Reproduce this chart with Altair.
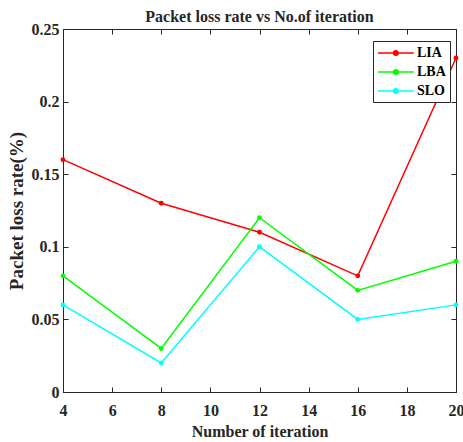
import altair as alt
import pandas as pd

iterations = [4, 8, 12, 16, 20]
lia = [0.16, 0.13, 0.11, 0.08, 0.23]
lba = [0.08, 0.03, 0.12, 0.07, 0.09]
slo = [0.06, 0.02, 0.10, 0.05, 0.06]
series_names = ["LIA", "LBA", "SLO"]
series_colors = ["#FF0000", "#00FF00", "#00FFFF"]
x_ticks = [4, 6, 8, 10, 12, 14, 16, 18, 20]
y_ticks = [0, 0.05, 0.1, 0.15, 0.2, 0.25]

rows = []
for name, vals in zip(series_names, [lia, lba, slo]):
    for it, v in zip(iterations, vals):
        rows.append({"iter": it, "rate": v, "series": name})
df = pd.DataFrame(rows)

FONT = "Liberation Serif"
AX = "#262626"

xs = alt.Scale(domain=[4, 20], nice=False, zero=False)
ys = alt.Scale(domain=[0, 0.25], nice=False)

base = alt.Chart(df)

main = base.mark_line(point=alt.OverlayMarkDef(filled=True, size=24), strokeWidth=1.5).encode(
    x=alt.X("iter:Q", scale=xs,
            axis=alt.Axis(orient="bottom", values=x_ticks, ticks=False, domain=True, domainColor=AX,
                          grid=False, labelFont=FONT, labelFontSize=16, labelFontWeight="bold",
                          labelColor=AX, labelPadding=10, title="Number of iteration",
                          titleFont=FONT, titleFontSize=16, titleFontWeight="bold", titleColor=AX,
                          titlePadding=5, labelFlush=False, labelOverlap=False)),
    y=alt.Y("rate:Q", scale=ys,
            axis=alt.Axis(orient="left", values=y_ticks, format="~g", ticks=False, domain=True,
                          domainColor=AX, grid=False, labelFont=FONT, labelFontSize=16,
                          labelFontWeight="bold", labelColor=AX, labelPadding=4,
                          title="Packet loss rate(%)", titleFont=FONT, titleFontSize=19,
                          titleFontWeight="bold", titleColor=AX, titlePadding=5,
                          labelFlush=False, labelOverlap=False)),
    color=alt.Color("series:N", sort=series_names,
                    scale=alt.Scale(domain=series_names, range=series_colors),
                    legend=alt.Legend(title=None)),
)

tick_common = dict(labels=False, domain=False, grid=False, title=None, ticks=True,
                   tickSize=5, tickColor=AX, tickWidth=1)

ticks_bl = base.mark_point(opacity=0).encode(
    x=alt.X("iter:Q", scale=xs, axis=alt.Axis(orient="bottom", values=x_ticks, offset=-5, **tick_common)),
    y=alt.Y("rate:Q", scale=ys, axis=alt.Axis(orient="left", values=y_ticks, offset=-5, **tick_common)),
)
ticks_tr = base.mark_point(opacity=0).encode(
    x=alt.X("iter:Q", scale=xs, axis=alt.Axis(orient="top", values=x_ticks, offset=-5, **tick_common)),
    y=alt.Y("rate:Q", scale=ys, axis=alt.Axis(orient="right", values=y_ticks, offset=-5, **tick_common)),
)

symbol_path = "M-1,0H4.1M1.22,0A0.33,0.33,0,1,1,1.88,0A0.33,0.33,0,1,1,1.22,0Z"

chart = alt.layer(main, ticks_bl, ticks_tr).resolve_axis(
    x="independent", y="independent"
).properties(
    width=393, height=363,
    title=alt.Title("Packet loss rate vs No.of iteration", font=FONT, fontSize=16,
                    fontWeight="bold", color=AX, offset=-4, anchor="middle"),
    autosize=alt.AutoSizeParams(type="none"),
    padding={"left": 63, "right": 7, "top": 29, "bottom": 50},
).configure_view(
    stroke=AX, strokeWidth=1
).configure_legend(
    orient="none", legendX=310, legendY=12, strokeColor=AX, fillColor="white",
    padding=4, rowPadding=4, labelFont=FONT, labelFontSize=14, labelFontWeight="bold",
    labelColor="#000000", symbolType=symbol_path, symbolSize=196, symbolStrokeWidth=1.5,
    labelOffset=24, cornerRadius=0
)

chart.save("out.html", embed_options={"renderer": "svg", "actions": False})
